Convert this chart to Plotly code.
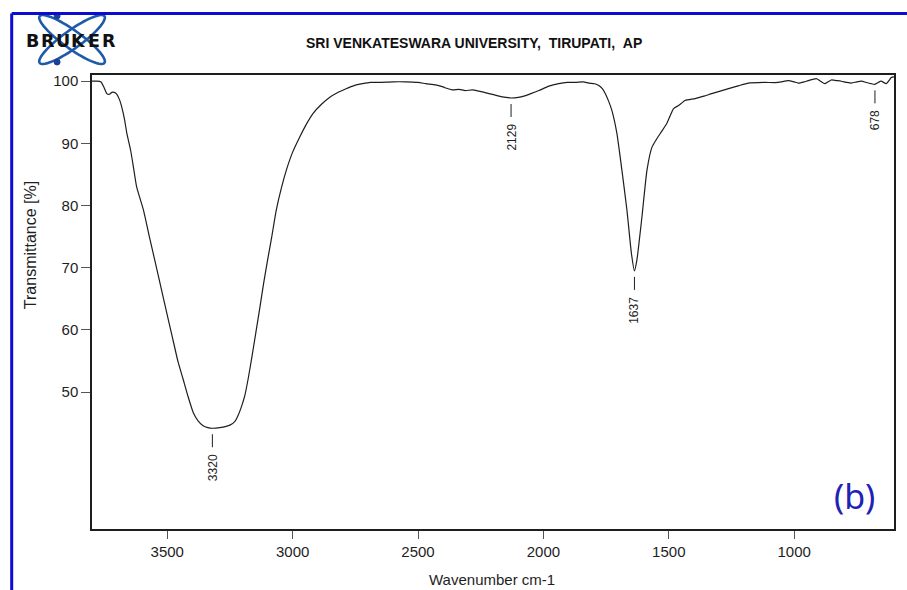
import numpy as np
import plotly.graph_objects as go

# FT-IR spectrum (transmittance vs wavenumber)
wavenumber = [
    3800, 3781, 3765, 3752, 3741, 3730, 3721, 3711, 3701, 3690, 3681, 3670, 3661,
    3646, 3634, 3622, 3595, 3569, 3537, 3509, 3481, 3457, 3436, 3417, 3396, 3377,
    3357, 3338, 3320, 3290, 3265, 3250, 3230, 3218, 3203, 3191, 3178, 3163, 3147,
    3131, 3116, 3100, 3084, 3065, 3045, 3025, 3000, 2972, 2945, 2919, 2885, 2853,
    2820, 2787, 2755, 2721, 2690, 2654, 2600, 2550, 2500, 2469, 2430, 2400, 2389,
    2363, 2336, 2312, 2283, 2257, 2217, 2177, 2150, 2129, 2100, 2078, 2050, 2018,
    1978, 1939, 1905, 1872, 1840, 1819, 1795, 1779, 1765, 1753, 1740, 1727, 1707,
    1687, 1667, 1649, 1637, 1627, 1607, 1587, 1567, 1550, 1534, 1508, 1481, 1461,
    1435, 1395, 1360, 1329, 1295, 1262, 1220, 1183, 1120, 1064, 1024, 1000, 984,
    960, 944, 911, 895, 878, 865, 852, 832, 812, 790, 772, 750, 732, 712, 693,
    678, 665, 653, 633, 620, 613, 602,
]
transmittance = [
    100.0, 100.0, 99.9, 99.0, 98.0, 97.9, 98.2, 98.2, 97.9, 97.0, 95.8, 93.8, 91.6,
    88.9, 86.0, 83.0, 79.3, 74.6, 69.0, 64.0, 59.1, 54.9, 52.0, 49.3, 46.7, 45.4,
    44.6, 44.3, 44.2, 44.3, 44.5, 44.7, 45.3, 46.2, 47.8, 49.4, 52.0, 55.5, 59.5,
    63.5, 67.4, 71.2, 74.8, 79.3, 82.8, 85.7, 88.6, 91.0, 93.1, 94.8, 96.3, 97.4,
    98.2, 98.8, 99.3, 99.6, 99.8, 99.8, 99.9, 99.9, 99.8, 99.6, 99.4, 99.1, 98.9,
    98.6, 98.7, 98.5, 98.6, 98.4, 98.0, 97.6, 97.4, 97.3, 97.4, 97.6, 98.0, 98.5,
    99.2, 99.6, 99.8, 99.8, 99.9, 99.7, 99.6, 99.3, 98.8, 98.0, 96.8, 95.3, 91.6,
    85.7, 79.3, 72.3, 69.5, 71.3, 78.2, 85.7, 89.4, 90.6, 91.6, 93.2, 95.6, 96.1,
    96.9, 97.2, 97.6, 98.0, 98.4, 98.8, 99.3, 99.7, 99.8, 99.8, 100.1, 99.9, 99.7,
    99.9, 100.1, 100.4, 100.0, 99.6, 99.9, 100.2, 100.1, 100.0, 99.8, 99.7, 99.9, 100.0, 99.8, 99.6,
    99.5, 99.8, 100.0, 99.6, 100.2, 100.6, 100.7,
]

# Labelled peaks
peak_wn = [3320, 2129, 1637, 678]
peak_t = [44.2, 97.3, 69.5, 99.5]

x_ticks = [3500, 3000, 2500, 2000, 1500, 1000]
y_ticks = [50, 60, 70, 80, 90, 100]

W, H = 907, 590
ML, MR, MT, MB = 92, 11, 75, 61
PW, PH = W - ML - MR, H - MT - MB


def px(xp):
    return (xp - ML) / PW


def py(yp):
    return (H - MB - yp) / PH


FONT = "Liberation Sans, Arial, sans-serif"
INK = "#1e1e1e"

fig = go.Figure()
fig.add_trace(go.Scatter(
    x=wavenumber, y=transmittance, mode="lines",
    line=dict(color=INK, width=1.2, shape="spline", smoothing=0.5),
    hoverinfo="skip", showlegend=False,
))

shapes = []
annotations = []

# Peak markers: short tick below the band minimum, then the rotated label
for wn, t in zip(peak_wn, peak_t):
    shapes.append(dict(
        type="line", xref="x", yref="y", ysizemode="pixel", yanchor=t,
        x0=wn, x1=wn, y0=-6, y1=-19, line=dict(color=INK, width=1),
    ))
    annotations.append(dict(
        x=wn, y=t, xref="x", yref="y", yshift=-24, text=str(wn),
        textangle=-90, showarrow=False, xanchor="center", yanchor="top",
        font=dict(family=FONT, size=12, color=INK),
    ))

# Axis titles
annotations.append(dict(
    x=px(30), y=py(245), xref="paper", yref="paper", text="Transmittance [%]",
    textangle=-90, showarrow=False, xanchor="center", yanchor="middle",
    font=dict(family=FONT, size=16, color=INK),
))
annotations.append(dict(
    x=px(493), y=py(579), xref="paper", yref="paper", text="Wavenumber cm-1",
    showarrow=False, xanchor="center", yanchor="middle",
    font=dict(family=FONT, size=15, color=INK),
))

# Header line
annotations.append(dict(
    x=px(475), y=py(43), xref="paper", yref="paper",
    text="SRI VENKATESWARA UNIVERSITY,\u00a0\u00a0TIRUPATI,\u00a0\u00a0AP",
    showarrow=False, xanchor="center", yanchor="middle",
    font=dict(family=FONT, size=14, color="#111", weight="bold"),
))

# Panel tag
annotations.append(dict(
    x=px(856), y=py(496), xref="paper", yref="paper", text="(b)",
    showarrow=False, xanchor="center", yanchor="middle",
    font=dict(family="Noto Sans, Open Sans, sans-serif", size=34, color="#1f22b4"),
))

# Logo: two crossed orbits with two dots and the word mark
cx, cy, a, b = 72.0, 39.5, 40.0, 9.0
tt = np.linspace(0, 2 * np.pi, 73)
for ang in (np.deg2rad(35.7), np.deg2rad(-35.7)):
    ex = cx + a * np.cos(tt) * np.cos(ang) - b * np.sin(tt) * np.sin(ang)
    ey = cy + a * np.cos(tt) * np.sin(ang) + b * np.sin(tt) * np.cos(ang)
    path = "M " + " L ".join(f"{px(u):.5f},{py(v):.5f}" for u, v in zip(ex, ey)) + " Z"
    shapes.append(dict(type="path", xref="paper", yref="paper", path=path,
                       line=dict(color="#1d5aa8", width=2.6)))
for dx, dy in ((57, 16), (57, 62)):
    shapes.append(dict(type="circle", xref="paper", yref="paper",
                       x0=px(dx - 3), x1=px(dx + 3), y0=py(dy + 3), y1=py(dy - 3),
                       fillcolor="#1b3f9c", line=dict(color="#1b3f9c", width=1)))
for i, ch in enumerate("BRUKER"):
    annotations.append(dict(
        x=px(32.5 + i * 15.3), y=py(41), xref="paper", yref="paper", text=ch,
        showarrow=False, xanchor="center", yanchor="middle",
        font=dict(family="DejaVu Sans, sans-serif", size=17.5, color="#111", weight="bold"),
    ))

# Blue page frame (top and left edges)
shapes.append(dict(type="line", xref="paper", yref="paper",
                   x0=px(11.5), x1=px(910), y0=py(13.5), y1=py(13.5),
                   line=dict(color="#0c0cd0", width=3)))
shapes.append(dict(type="line", xref="paper", yref="paper",
                   x0=px(11.5), x1=px(11.5), y0=py(13.5), y1=py(593),
                   line=dict(color="#0c0cd0", width=3)))

fig.update_layout(
    width=W, height=H,
    margin=dict(l=ML, r=MR, t=MT, b=MB),
    paper_bgcolor="white", plot_bgcolor="white",
    shapes=shapes, annotations=annotations,
    xaxis=dict(
        range=[3800, 602], tickvals=x_ticks, ticktext=[str(v) for v in x_ticks],
        showgrid=False, zeroline=False, showline=True, mirror=True,
        linecolor=INK, linewidth=1.5, ticks="outside", ticklen=8, tickwidth=1,
        tickcolor="#555", tickfont=dict(family=FONT, size=15, color=INK),
    ),
    yaxis=dict(
        range=[28, 101], tickvals=y_ticks, ticktext=[str(v) for v in y_ticks],
        showgrid=False, zeroline=False, showline=True, mirror=True,
        linecolor=INK, linewidth=1.5, ticks="outside", ticklen=9, tickwidth=1,
        tickcolor="#555", tickfont=dict(family=FONT, size=15, color=INK),
    ),
)

fig.write_html("out.html")
